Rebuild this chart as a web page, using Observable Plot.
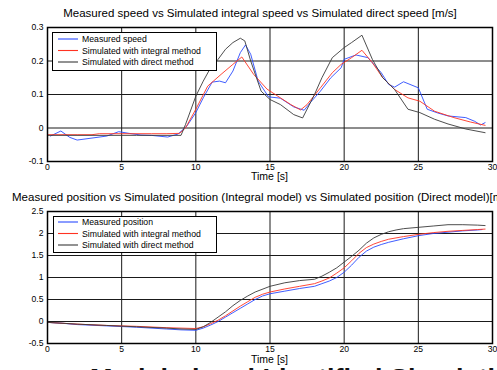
<!DOCTYPE html>
<html>
<head>
<meta charset="utf-8">
<script src="https://cdn.jsdelivr.net/npm/d3@7"></script>
<script src="https://cdn.jsdelivr.net/npm/@observablehq/plot@0.6"></script>
<style>
  html, body { margin: 0; padding: 0; background: #fff; }
  #chart { position: relative; width: 497px; height: 370px; overflow: hidden; background: #fff;
           font-family: "Liberation Sans", Arial, sans-serif; color: #000; }
  #chart svg { position: absolute; left: 0; }
</style>
</head>
<body>
<div id="chart"></div>
<script>
// ---------- data ----------
const timeTicks = [0, 5, 10, 15, 20, 25, 30];
const speedTicks = [-0.1, 0, 0.1, 0.2, 0.3];
const positionTicks = [-0.5, 0, 0.5, 1, 1.5, 2, 2.5];

const speedTitle = "Measured speed vs Simulated integral speed vs Simulated direct speed [m/s]";
const positionTitle = "Measured position vs Simulated position (Integral model) vs Simulated position (Direct model)[m/s]";
const xLabel = "Time [s]";
const speedLegend = ["Measured speed", "Simulated with integral method", "Simulated with direct method"];
const positionLegend = ["Measured position", "Simulated with integral method", "Simulated with direct method"];
const seriesColors = ["#2a4bff", "#ff3322", "#3a3a3a"];

// speed: measured
const speedMeasT = [0.2,0.9,1.5,2.0,3.0,4.0,4.8,5.5,6.3,7.0,8.1,8.8,9.4,10.0,10.5,11.1,11.6,12.0,12.5,13.0,13.35,13.7,14.2,14.9,15.7,16.6,17.3,17.8,18.4,19.1,19.8,20.0,20.8,21.6,22.5,23.0,23.4,24.0,25.0,25.6,26.3,27.0,28.2,28.8,29.2,29.5];
const speedMeasV = [-0.024,-0.009,-0.028,-0.036,-0.03,-0.024,-0.011,-0.016,-0.021,-0.022,-0.027,-0.018,0.006,0.046,0.09,0.137,0.14,0.135,0.17,0.225,0.248,0.22,0.14,0.093,0.089,0.063,0.053,0.08,0.11,0.15,0.18,0.205,0.218,0.21,0.165,0.13,0.122,0.138,0.12,0.056,0.045,0.036,0.031,0.02,0.009,0.016];
// speed: integral method
const speedIntT = [0,2,3,3.5,5,7,8,8.9,9.3,10,10.8,11.7,12.5,13.1,13.9,14.8,15.7,16.4,17.06,17.5,18.4,19.2,19.8,20.5,21.2,21.9,22.6,23.4,24.3,25.1,26.1,27.4,28.5,29.5];
const speedIntV = [-0.02,-0.02,-0.02,-0.017,-0.017,-0.017,-0.017,-0.016,0.0,0.056,0.125,0.16,0.19,0.212,0.16,0.116,0.09,0.07,0.054,0.07,0.12,0.165,0.19,0.21,0.232,0.195,0.15,0.115,0.09,0.08,0.05,0.031,0.018,0.008];
// speed: direct method
const speedDirT = [0,3,6,9.0,9.3,10,10.5,11,11.5,12,12.5,13,13.3,13.7,14.4,15,15.7,16.6,17.2,18,18.5,19.2,20,20.5,21.2,21.9,22.6,23.4,24.3,25.1,26.1,27,28.2,29.5];
const speedDirV = [-0.022,-0.022,-0.022,-0.022,0.01,0.095,0.14,0.18,0.205,0.235,0.255,0.268,0.26,0.2,0.11,0.085,0.07,0.04,0.03,0.1,0.15,0.21,0.24,0.255,0.277,0.205,0.15,0.115,0.056,0.046,0.026,0.012,-0.003,-0.014];

// position: measured
const posMeasT = [0,1,2,4,6,8,9,10,10.5,11,11.5,12,12.5,13,13.5,14,14.5,15,16,17,18,18.5,19,19.5,20,20.5,21,21.5,22,22.5,23,24,25,26,27,28,29,29.3];
const posMeasV = [-0.02,-0.04,-0.07,-0.1,-0.13,-0.17,-0.19,-0.2,-0.15,-0.08,0.0,0.1,0.2,0.3,0.4,0.5,0.58,0.63,0.69,0.75,0.8,0.86,0.92,1.0,1.12,1.28,1.46,1.6,1.69,1.75,1.8,1.88,1.95,2.0,2.03,2.06,2.08,2.09];
// position: integral method
const posIntT = [0,2,4,6,8,10,10.5,11,11.5,12,12.5,13,13.5,14,14.5,15,16,17,18,18.5,19,19.5,20,20.5,21,21.5,22,22.5,23,24,25,26,27,28,29,29.5];
const posIntV = [-0.02,-0.06,-0.09,-0.11,-0.14,-0.16,-0.12,-0.05,0.03,0.13,0.24,0.35,0.45,0.55,0.62,0.67,0.74,0.8,0.86,0.92,0.99,1.1,1.22,1.38,1.55,1.68,1.76,1.82,1.87,1.93,1.98,2.02,2.05,2.07,2.09,2.1];
// position: direct method
const posDirT = [0,2,4,6,8,9,10,10.5,11,11.5,12,12.5,13,13.5,14,15,16,17,18,18.5,19,19.5,20,20.5,21,21.5,22,22.5,23,23.5,24,25,26,27,28,29,29.5];
const posDirV = [-0.02,-0.06,-0.09,-0.12,-0.15,-0.17,-0.18,-0.12,-0.02,0.1,0.22,0.36,0.48,0.58,0.67,0.8,0.88,0.93,0.96,1.03,1.12,1.22,1.35,1.48,1.62,1.78,1.9,1.98,2.04,2.08,2.11,2.14,2.17,2.2,2.2,2.19,2.18];

// ---------- build ----------
const rows = (ts, vs) => ts.map((t, i) => ({t, v: vs[i]}));
const font = '"Liberation Sans", Arial, sans-serif';

function panel(yDomain, yTicks, series, opts) {
  return Plot.plot({
    width: 497, height: opts.height,
    marginLeft: 47, marginRight: 5, marginTop: opts.marginTop, marginBottom: opts.marginBottom,
    style: {background: "transparent", fontFamily: font, fontSize: "8.6px", color: "#000", overflow: "visible"},
    x: {domain: [0, 30]},
    y: {domain: yDomain},
    marks: [
      Plot.ruleX(timeTicks, {stroke: "#1a1a1a", strokeWidth: 1}),
      Plot.ruleY(yTicks, {stroke: "#1a1a1a", strokeWidth: 1}),
      Plot.axisX(timeTicks, {tickSize: 0, tickPadding: 2.5, tickFormat: d => String(d), label: null}),
      Plot.axisY(yTicks, {tickSize: 0, tickPadding: 4, tickFormat: d => String(d), label: null}),
      ...series.map((s, i) => Plot.line(s, {x: "t", y: "v", stroke: seriesColors[i], strokeWidth: 0.9})),
      Plot.frame({stroke: "#000", strokeWidth: 1.5})
    ]
  });
}

const chart = document.getElementById("chart");

const speedPlot = panel([-0.1, 0.3], speedTicks,
  [rows(speedMeasT, speedMeasV), rows(speedIntT, speedIntV), rows(speedDirT, speedDirV)],
  {height: 180, marginTop: 27, marginBottom: 19});
speedPlot.style.top = "0px";
chart.appendChild(speedPlot);

const positionPlot = panel([-0.5, 2.5], positionTicks,
  [rows(posMeasT, posMeasV), rows(posIntT, posIntV), rows(posDirT, posDirV)],
  {height: 190, marginTop: 31, marginBottom: 27});
positionPlot.style.top = "180px";
chart.appendChild(positionPlot);

// fit title font to measured width
const ctx = document.createElement("canvas").getContext("2d");
ctx.font = `10px ${font}`;
const titleSize = 10 * 394 / ctx.measureText(speedTitle).width;

// overlay svg for texts (baseline-accurate)
const overlay = d3.select(chart).append("svg")
  .attr("width", 497).attr("height", 370)
  .style("position", "absolute").style("left", "0px").style("top", "0px").style("overflow", "hidden");

function addText(str, x, baseline, size, opts = {}) {
  return overlay.append("text")
    .attr("x", x).attr("y", baseline)
    .attr("text-anchor", opts.center ? "middle" : "start")
    .attr("font-family", font).attr("font-size", size)
    .attr("font-weight", opts.bold ? "bold" : "normal")
    .attr("fill", opts.color || "#000")
    .text(str);
}

addText(speedTitle, 260, 16.6, titleSize, {center: true});
addText(positionTitle, 12, 200.8, titleSize);
addText(xLabel, 269.5, 180.4, 10.5, {center: true});
addText(xLabel, 269.5, 363.2, 10.5, {center: true});
addText("Modeled and Identified Simulation", 90, 387.5, 27, {bold: true, color: "#111"});

function legend(labels, left, topPx, width, height, rowCenters) {
  overlay.append("rect").attr("x", left + 0.5).attr("y", topPx + 0.5)
    .attr("width", width).attr("height", height)
    .attr("fill", "#fff").attr("stroke", "#000").attr("stroke-width", 1);
  labels.forEach((lab, i) => {
    const cy = rowCenters[i];
    overlay.append("line").attr("x1", 58).attr("x2", 78).attr("y1", cy).attr("y2", cy)
      .attr("stroke", seriesColors[i]).attr("stroke-width", 1.1);
    overlay.append("text").attr("x", 82).attr("y", cy).attr("dy", "0.35em")
      .attr("font-family", font).attr("font-size", 8.7).attr("fill", "#000").text(lab);
  });
}
legend(speedLegend, 52, 32, 164, 38, [39, 50.5, 62]);
legend(positionLegend, 53, 216, 163, 36, [222, 233.5, 245]);
</script>
</body>
</html>
